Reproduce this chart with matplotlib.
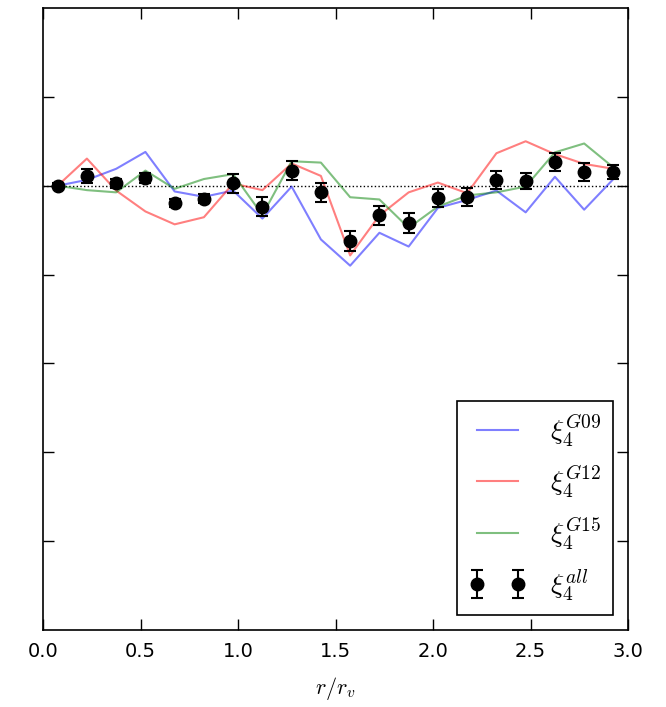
import numpy as np
import matplotlib
matplotlib.use("Agg")
import matplotlib.pyplot as plt

plt.rcParams['mathtext.fontset'] = 'cm'

# bin centres in r/r_v
r = np.arange(0.075, 3.0, 0.15)

# xi_4 for each group and for all
xi_g09 = [0.0, 0.013, 0.038, 0.076, -0.013, -0.025, -0.011, -0.074, -0.002, -0.121,
          -0.180, -0.106, -0.137, -0.050, -0.032, -0.011, -0.060, 0.020, -0.054, 0.015]
xi_g12 = [0.0, 0.061, -0.011, -0.058, -0.087, -0.071, 0.005, -0.010, 0.050, 0.022,
          -0.157, -0.067, -0.015, 0.007, -0.017, 0.073, 0.100, 0.071, 0.049, 0.038]
xi_g15 = [0.0, -0.010, -0.015, 0.034, -0.007, 0.015, 0.026, -0.066, 0.055, 0.052,
          -0.026, -0.031, -0.095, -0.047, -0.022, -0.015, -0.002, 0.075, 0.095, 0.041]
xi_all = [0.0, 0.022, 0.005, 0.017, -0.038, -0.029, 0.005, -0.047, 0.034, -0.015,
          -0.124, -0.067, -0.084, -0.028, -0.026, 0.013, 0.011, 0.054, 0.031, 0.031]
xi_err = [0.006, 0.016, 0.010, 0.012, 0.009, 0.011, 0.022, 0.022, 0.021, 0.022,
          0.022, 0.021, 0.022, 0.021, 0.020, 0.020, 0.018, 0.020, 0.021, 0.016]

fig = plt.figure(figsize=(6.66, 7.07), dpi=100)
ax = fig.add_axes([0.0646, 0.109, 0.8784, 0.8797])

ax.axhline(0, color='black', ls=':', lw=1)
ax.plot(r, xi_g09, color='blue', alpha=0.5, lw=1.5, label=r'$\xi_4^{G09}$')
ax.plot(r, xi_g12, color='red', alpha=0.5, lw=1.5, label=r'$\xi_4^{G12}$')
ax.plot(r, xi_g15, color='green', alpha=0.5, lw=1.5, label=r'$\xi_4^{G15}$')
ax.errorbar(r, xi_all, yerr=xi_err, fmt='o', color='black', ms=9,
            capsize=4, elinewidth=1.5, capthick=1.5, label=r'$\xi_4^{all}$')

ax.set_xlim(0, 3.0)
ax.set_ylim(-1.0, 0.4)
ax.set_xticks(np.arange(0, 3.01, 0.5))
ax.set_yticks(np.arange(-0.8, 0.39, 0.2))
ax.set_yticklabels([])
ax.tick_params(direction='in', length=8, width=1, top=True, right=True, labelsize=14, pad=9)
for s in ax.spines.values():
    s.set_linewidth(1.2)
ax.set_xlabel(r'$r/r_v$', fontsize=16, labelpad=10)

leg = ax.legend(loc='lower right', numpoints=2, fontsize=20, fancybox=False,
                edgecolor='black', framealpha=1, labelspacing=0.55,
                handlelength=2.1, handletextpad=0.85, borderpad=0.4,
                borderaxespad=0.55)
leg.get_frame().set_linewidth(1.2)

fig.savefig('out.png', dpi=100)
